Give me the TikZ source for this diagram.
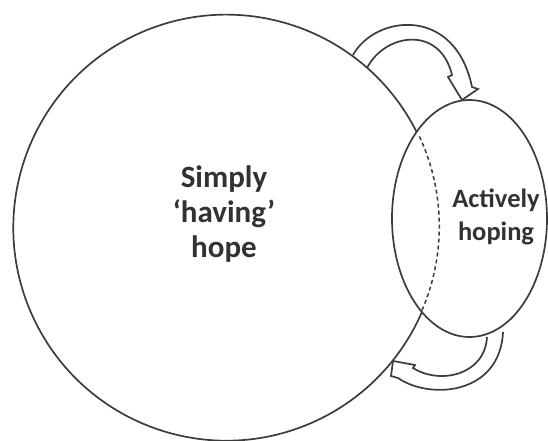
\documentclass[tikz,border=0pt]{standalone}
\usepackage{fontspec}
\setmainfont{Carlito}
\usetikzlibrary{shapes.geometric}
\definecolor{ink}{RGB}{60,60,60}
\definecolor{label}{RGB}{50,50,50}
\tikzset{
  outline/.style={draw=ink, line width=1.7pt, line join=round},
  hidden/.style={draw=ink, line width=1.5pt, dash pattern=on 4pt off 3pt},
  caption/.style={text=label, font=\bfseries, align=center, inner sep=0pt},
  loop/.style={draw=ink, line width=1.7pt, line join=miter, fill=white},
}
\begin{document}
\begin{tikzpicture}[x=1pt, y=1pt]
\useasboundingbox (0,0) rectangle (548,441);

% curved block arrows between the two regions
\draw[loop] (353,386) .. controls (375,426) and (455,436) .. (472,354)
  -- (478,352) -- (462,341) -- (448,364) -- (452,366)
  .. controls (440,416) and (385,408) .. (367,373);
\draw[loop] (503,109) .. controls (500,46) and (430,41) .. (398,63)
  -- (391,65) -- (393,80) -- (415,76) -- (413,73)
  .. controls (440,56) and (485,66) .. (487,104);

% large circle: solid outside the ellipse, dashed where it is overlapped
\node[circle, minimum size=426pt, inner sep=0pt, outer sep=0pt] (having) at (226,214) {};
\draw[outline] (having.25.2) arc[start angle=25.2, end angle=336.8, radius=213pt];

% the smaller ellipse
\node[ellipse, outline, fill=white, minimum width=155pt, minimum height=237pt, inner sep=0pt, outer sep=0pt] (active) at (469.5,222.5) {};
\draw[hidden] (having.-23.2) arc[start angle=-23.2, end angle=25.2, radius=213pt];

\node[caption, font=\bfseries\fontsize{31}{35}\selectfont] (havingtext) at (224,227) {Simply\\‘having’\\hope};
\node[caption, font=\bfseries\fontsize{26.5}{33}\selectfont] (activetext) at (496,224.5) {Actively\\hoping};
\end{tikzpicture}
\end{document}
